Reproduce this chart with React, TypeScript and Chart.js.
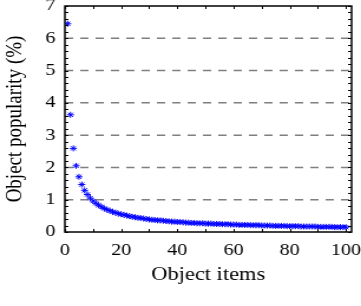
import React, { useEffect, useRef } from "react";
import { Chart, registerables } from "chart.js";

Chart.register(...registerables);

const popularity: number[] = [
  6.45, 3.63, 2.59, 2.05, 1.71, 1.47, 1.29, 1.16, 1.05, 0.96,
  0.89, 0.83, 0.78, 0.73, 0.69, 0.66, 0.62, 0.6, 0.57, 0.55,
  0.53, 0.51, 0.49, 0.47, 0.46, 0.44, 0.43, 0.42, 0.4, 0.39,
  0.38, 0.37, 0.36, 0.36, 0.35, 0.34, 0.33, 0.32, 0.32, 0.31,
  0.31, 0.3, 0.29, 0.29, 0.28, 0.28, 0.27, 0.27, 0.27, 0.26,
  0.26, 0.26, 0.25, 0.25, 0.25, 0.24, 0.24, 0.24, 0.23, 0.23,
  0.23, 0.22, 0.22, 0.22, 0.22, 0.21, 0.21, 0.21, 0.21, 0.2,
  0.2, 0.2, 0.2, 0.19, 0.19, 0.19, 0.19, 0.19, 0.18, 0.18,
  0.18, 0.18, 0.18, 0.17, 0.17, 0.17, 0.17, 0.17, 0.17, 0.16,
  0.16, 0.16, 0.16, 0.16, 0.16, 0.15, 0.15, 0.15, 0.15, 0.15,
];
const xTickLabels: number[] = [0, 20, 40, 60, 80, 100];
const xMinorTicks: number[] = [10, 30, 50, 70, 90];
const yTickLabels: number[] = [0, 1, 2, 3, 4, 5, 6, 7];
const yGridValues: number[] = [1, 2, 3, 4, 5, 6];
const yMinorStep = 0.2;
const xTitle = "Object items";
const yTitle = "Object popularity (%)";

const BASE_W = 306;
const BASE_H = 306;
const STRETCH = 361 / 306;

const framePlugin = {
  id: "frame",
  beforeDatasetsDraw(chart: any) {
    const { ctx, chartArea: a, scales } = chart;
    const y = scales.y;
    ctx.save();
    ctx.strokeStyle = "#7f7f7f";
    ctx.lineWidth = 1.5;
    ctx.setLineDash([7, 6]);
    ctx.beginPath();
    for (const v of yGridValues) {
      const py = y.getPixelForValue(v);
      ctx.moveTo(a.left, py);
      ctx.lineTo(a.right, py);
    }
    ctx.stroke();
    ctx.restore();
  },
  afterDatasetsDraw(chart: any) {
    const { ctx, chartArea: a, scales } = chart;
    const x = scales.x;
    const y = scales.y;
    ctx.save();
    ctx.strokeStyle = "#000";
    ctx.lineWidth = 1;
    const tl = 3;
    ctx.beginPath();
    const xt = [...xTickLabels, ...xMinorTicks];
    for (const v of xt) {
      const px = Math.round(x.getPixelForValue(v)) + 0.5;
      ctx.moveTo(px, a.bottom);
      ctx.lineTo(px, a.bottom - tl);
      ctx.moveTo(px, a.top);
      ctx.lineTo(px, a.top + tl);
    }
    const n = Math.round(7 / yMinorStep);
    for (let i = 0; i <= n; i++) {
      const v = i * yMinorStep;
      const py = Math.round(y.getPixelForValue(v)) + 0.5;
      ctx.moveTo(a.left, py);
      ctx.lineTo(a.left + tl, py);
      ctx.moveTo(a.right, py);
      ctx.lineTo(a.right - tl, py);
    }
    ctx.stroke();
    ctx.lineWidth = 1.5;
    ctx.strokeRect(a.left, a.top, a.right - a.left, a.bottom - a.top);
    ctx.restore();
  },
};

export default function App() {
  const ref = useRef<HTMLCanvasElement | null>(null);
  useEffect(() => {
    if (!ref.current) return;
    const family = "'Liberation Serif', 'Times New Roman', serif";
    const tickFont = { family, size: 17 };
    const titleFont = { family, size: 19 };
    const chart = new Chart(ref.current, {
      type: "scatter",
      data: {
        datasets: [
          {
            data: popularity.map((v, i) => ({ x: i + 1, y: v })),
            pointStyle: "star",
            pointRadius: 3,
            borderColor: "#0000ff",
            backgroundColor: "#0000ff",
            borderWidth: 1,
          },
        ],
      },
      options: {
        animation: false,
        responsive: true,
        maintainAspectRatio: false,
        layout: { padding: { top: 6, right: 8, left: 0, bottom: 0 } },
        plugins: { legend: { display: false }, tooltip: { enabled: false } },
        scales: {
          x: {
            type: "linear",
            min: 0,
            max: 102,
            afterFit(s: any) {
              s.height = 74;
              s.paddingLeft = 0;
              s.paddingRight = 0;
            },
            afterBuildTicks(s: any) {
              s.ticks = xTickLabels.map((v) => ({ value: v }));
            },
            ticks: { color: "#000", font: tickFont, padding: 8, maxRotation: 0 },
            grid: { display: false, drawTicks: false },
            border: { display: false },
            title: { display: true, text: xTitle, color: "#000", font: titleFont, padding: { top: 0, bottom: 20 } },
          },
          y: {
            type: "linear",
            min: 0,
            max: 7,
            afterFit(s: any) {
              s.width = 55;
              s.paddingTop = 0;
              s.paddingBottom = 0;
            },
            afterBuildTicks(s: any) {
              s.ticks = yTickLabels.map((v) => ({ value: v }));
            },
            ticks: { color: "#000", font: tickFont, padding: 8 },
            grid: { display: false, drawTicks: false },
            border: { display: false },
            title: { display: true, text: yTitle, color: "#000", font: titleFont, padding: { top: 2, bottom: 0 } },
          },
        },
      },
      plugins: [framePlugin],
    } as any);
    return () => chart.destroy();
  }, []);
  return (
    <div style={{ position: "fixed", left: 0, top: 0, width: 361, height: 306, background: "#fff", overflow: "hidden" }}>
      <div
        style={{
          position: "absolute",
          left: 0,
          top: 0,
          width: BASE_W,
          height: BASE_H,
          transform: `scaleX(${STRETCH})`,
          transformOrigin: "0 0",
        }}
      >
        <canvas ref={ref} />
      </div>
    </div>
  );
}
